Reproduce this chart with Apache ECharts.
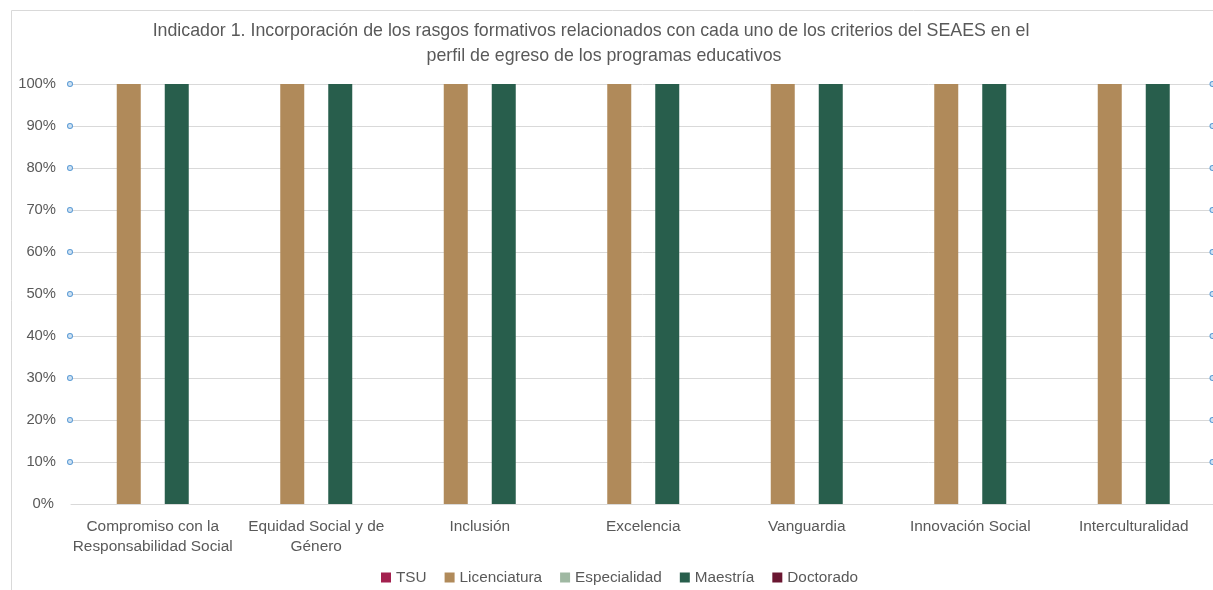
<!DOCTYPE html>
<html>
<head>
<meta charset="utf-8">
<script src="https://cdn.jsdelivr.net/npm/echarts@6/dist/echarts.min.js"></script>
<style>
  html, body { margin: 0; padding: 0; background: #fff; }
  #chart { width: 1213px; height: 590px; }
</style>
</head>
<body>
<div id="chart"></div>
<script>
// criterios del SEAES (eje x)
var criterios = [
    "Compromiso con la\nResponsabilidad Social",
    "Equidad Social y de\nGénero",
    "Inclusión",
    "Excelencia",
    "Vanguardia",
    "Innovación Social",
    "Interculturalidad"
];

// porcentaje por nivel educativo
var tsu = [0, 0, 0, 0, 0, 0, 0];
var licenciatura = [100, 100, 100, 100, 100, 100, 100];
var especialidad = [0, 0, 0, 0, 0, 0, 0];
var maestria = [100, 100, 100, 100, 100, 100, 100];
var doctorado = [0, 0, 0, 0, 0, 0, 0];

var colores = ["#a3214f", "#b08a5a", "#9fb8a2", "#285e4c", "#6a1631"];
var txt = "#595959";
var fuente = "Liberation Sans";

function serie(nombre, datos) {
    return {
        name: nombre,
        type: "bar",
        data: datos,
        barWidth: 24,
        barGap: "0%",
        barCategoryGap: "26.6%"
    };
}

var circulo = {
    width: 4, height: 4, borderRadius: 3,
    borderColor: "#5b9bd5", borderWidth: 1, backgroundColor: "#cfe2f3"
};

var estiloTitulo = { fontSize: 17.8, fontWeight: "normal", color: txt, fontFamily: fuente };

var myChart = echarts.init(document.getElementById("chart"));
myChart.setOption({
    animation: false,
    color: colores,
    textStyle: { fontFamily: fuente },
    title: [{
        text: "Indicador 1. Incorporación de los rasgos formativos relacionados con cada uno de los criterios del SEAES en el",
        left: 586, top: 17, textAlign: "center",
        textStyle: estiloTitulo
    }, {
        text: "perfil de egreso de los programas educativos",
        left: 599, top: 42, textAlign: "center",
        textStyle: estiloTitulo
    }],
    graphic: [{
        type: "rect",
        shape: { x: 11.5, y: 10.5, width: 1230, height: 620 },
        style: { fill: "none", stroke: "#d9d9d9", lineWidth: 1 },
        silent: true,
        z: -1
    }],
    legend: {
        data: ["TSU", "Licenciatura", "Especialidad", "Maestría", "Doctorado"],
        left: 376,
        top: 565,
        itemWidth: 10,
        itemHeight: 10,
        itemGap: 18,
        icon: "rect",
        textStyle: { fontSize: 15.3, color: txt, fontFamily: fuente, padding: [0, 0, 0, 0] }
    },
    grid: { left: 71, top: 84, width: 1144.5, height: 420, containLabel: false, outerBoundsMode: "none" },
    xAxis: {
        type: "category",
        data: criterios,
        axisLine: { lineStyle: { color: "#d9d9d9" } },
        axisTick: { show: false },
        axisLabel: { color: txt, fontSize: 15.4, lineHeight: 20, margin: 13, interval: 0, fontFamily: fuente }
    },
    yAxis: [{
        type: "value",
        min: 0,
        max: 100,
        interval: 10,
        axisLine: { show: false },
        axisTick: { show: false },
        splitLine: { lineStyle: { color: "#d9d9d9" } },
        axisLabel: {
            margin: -1,
            formatter: function (v) {
                return (v === 0 ? "{t|" + v + "%}{s|}{n|}" : "{t|" + v + "%}{s|}{c|}");
            },
            rich: {
                t: { color: txt, fontSize: 14.8, fontFamily: fuente },
                s: { width: 12 },
                c: circulo,
                n: { width: 6 }
            }
        }
    }, {
        type: "value",
        position: "right",
        min: 0,
        max: 100,
        interval: 10,
        axisLine: { show: false },
        axisTick: { show: false },
        splitLine: { show: false },
        axisLabel: {
            margin: -5,
            align: "left",
            formatter: function (v) { return v === 0 ? "" : "{c|}"; },
            rich: { c: circulo }
        }
    }],
    series: [
        serie("TSU", tsu),
        serie("Licenciatura", licenciatura),
        serie("Especialidad", especialidad),
        serie("Maestría", maestria),
        serie("Doctorado", doctorado)
    ]
});
</script>
</body>
</html>
